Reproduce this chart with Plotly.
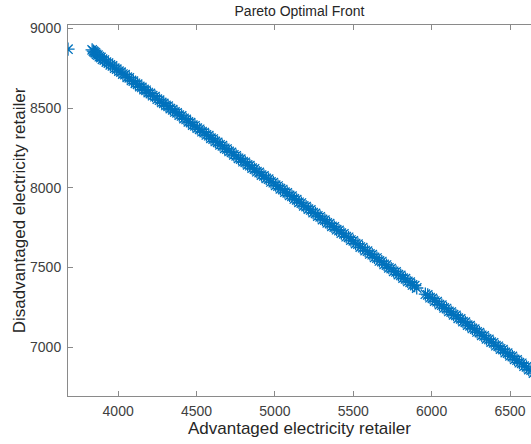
import plotly.graph_objects as go

# Pareto front points (Advantaged retailer profit, Disadvantaged retailer profit)
adv = [3680, 3834, 3842, 3848, 3855, 3862, 3871, 3880, 3890, 3900, 3912, 3925, 3938, 3950, 3964,
       3978, 3991, 4005, 4018, 4030, 4044, 4058, 4071, 4085, 4097, 4110, 4124, 4138, 4151,
       4165, 4178, 4192, 4206, 4220, 4235, 4250, 4264, 4278, 4291, 4305, 4319, 4333, 4348,
       4362, 4376, 4390, 4405, 4420, 4434, 4448, 4462, 4476, 4490, 4505, 4520, 4535, 4549,
       4563, 4578, 4592, 4606, 4620, 4635, 4650, 4665, 4680, 4694, 4708, 4723, 4738, 4753,
       4768, 4782, 4797, 4811, 4826, 4840, 4855, 4870, 4885, 4900, 4915, 4930, 4945, 4960,
       4975, 4990, 5005, 5020, 5035, 5050, 5064, 5079, 5094, 5109, 5124, 5139, 5154, 5169,
       5184, 5199, 5214, 5229, 5244, 5259, 5274, 5289, 5304, 5319, 5334, 5349, 5364, 5379,
       5394, 5409, 5424, 5440, 5455, 5470, 5485, 5500, 5515, 5530, 5545, 5560, 5576, 5591,
       5606, 5621, 5636, 5651, 5667, 5682, 5697, 5712, 5727, 5742, 5758, 5773, 5788, 5803,
       5818, 5833, 5848, 5863, 5878, 5892, 5905, 5960, 5975, 5990, 6005, 6020, 6035, 6050,
       6065, 6080, 6095, 6110, 6125, 6140, 6155, 6170, 6185, 6200, 6215, 6230, 6245, 6260,
       6275, 6290, 6305, 6320, 6335, 6350, 6365, 6380, 6395, 6410, 6425, 6440, 6455, 6470,
       6485, 6500, 6515, 6530, 6545, 6560, 6575, 6590, 6605, 6620, 6635, 6650]
disadv = [8870, 8866, 8858, 8852, 8847, 8838, 8833, 8823, 8818, 8807, 8802, 8789, 8783, 8771, 8765,
          8751, 8745, 8732, 8726, 8714, 8710, 8694, 8690, 8674, 8669, 8656, 8650, 8636, 8630,
          8617, 8612, 8598, 8592, 8578, 8572, 8556, 8550, 8536, 8530, 8517, 8512, 8497, 8490,
          8476, 8471, 8456, 8451, 8435, 8429, 8414, 8409, 8394, 8389, 8374, 8367, 8352, 8347,
          8332, 8327, 8311, 8306, 8291, 8285, 8270, 8264, 8248, 8243, 8228, 8222, 8207, 8201,
          8185, 8180, 8164, 8160, 8144, 8139, 8123, 8118, 8101, 8096, 8080, 8075, 8059, 8054,
          8037, 8032, 8016, 8011, 7994, 7989, 7973, 7968, 7952, 7947, 7930, 7925, 7909, 7904,
          7887, 7882, 7866, 7861, 7844, 7839, 7823, 7818, 7801, 7797, 7780, 7775, 7758, 7754,
          7737, 7732, 7715, 7711, 7693, 7689, 7672, 7667, 7650, 7646, 7628, 7624, 7606, 7602,
          7585, 7580, 7563, 7559, 7541, 7537, 7519, 7515, 7498, 7493, 7476, 7472, 7455, 7450,
          7433, 7429, 7412, 7407, 7390, 7386, 7371, 7332, 7328, 7310, 7306, 7289, 7285, 7267,
          7263, 7246, 7242, 7224, 7220, 7203, 7199, 7181, 7177, 7160, 7156, 7138, 7134, 7117,
          7113, 7095, 7091, 7074, 7070, 7052, 7048, 7031, 7027, 7009, 7005, 6988, 6984, 6966,
          6962, 6945, 6941, 6923, 6919, 6902, 6898, 6880, 6876, 6859, 6855, 6837]

x_ticks = [4000, 4500, 5000, 5500, 6000, 6500]
y_ticks = [7000, 7500, 8000, 8500, 9000]

blue = "#0072BD"
axis_col = "#8a8a8a"
txt_col = "#404040"
font = "Liberation Sans, Arial, sans-serif"

fig = go.Figure()
fig.add_trace(go.Scatter(
    x=adv, y=disadv, mode="markers",
    marker=dict(symbol="asterisk-open", size=11, color=blue,
                line=dict(color=blue, width=1.3)),
    showlegend=False,
))

fig.update_layout(
    width=531, height=444,
    margin=dict(l=68, r=0, t=25, b=48),
    paper_bgcolor="white", plot_bgcolor="white",
    font=dict(family=font, size=14, color=txt_col),
    title=dict(text="Pareto Optimal Front", x=(68 + 531) / 2 / 531, xanchor="center",
               y=1 - 11 / 444, yanchor="middle", yref="container",
               font=dict(size=14, color="#262626")),
)
fig.update_xaxes(
    range=[3680, 6634], tickvals=x_ticks, ticktext=[str(v) for v in x_ticks],
    showgrid=False, zeroline=False, showline=True, linecolor=axis_col, linewidth=1,
    mirror="ticks", ticks="inside", ticklen=5, tickcolor=axis_col,
    tickfont=dict(size=14, color=txt_col), ticklabelstandoff=2,
    ticklabeloverflow="allow",
    title=dict(text="Advantaged electricity retailer", standoff=2,
               font=dict(size=17, color="#262626")),
)
fig.update_yaxes(
    range=[6693, 9022], tickvals=y_ticks, ticktext=[str(v) for v in y_ticks],
    showgrid=False, zeroline=False, showline=True, linecolor=axis_col, linewidth=1,
    mirror=False, ticks="inside", ticklen=5, tickcolor=axis_col,
    tickfont=dict(size=14, color=txt_col), ticklabelstandoff=3,
    title=dict(text="Disadvantaged electricity retailer", standoff=0,
               font=dict(size=17, color="#262626")),
)

fig.write_html("out.html", config={"displayModeBar": False},
               post_script="document.body.style.margin='0';document.body.style.overflow='hidden';")
